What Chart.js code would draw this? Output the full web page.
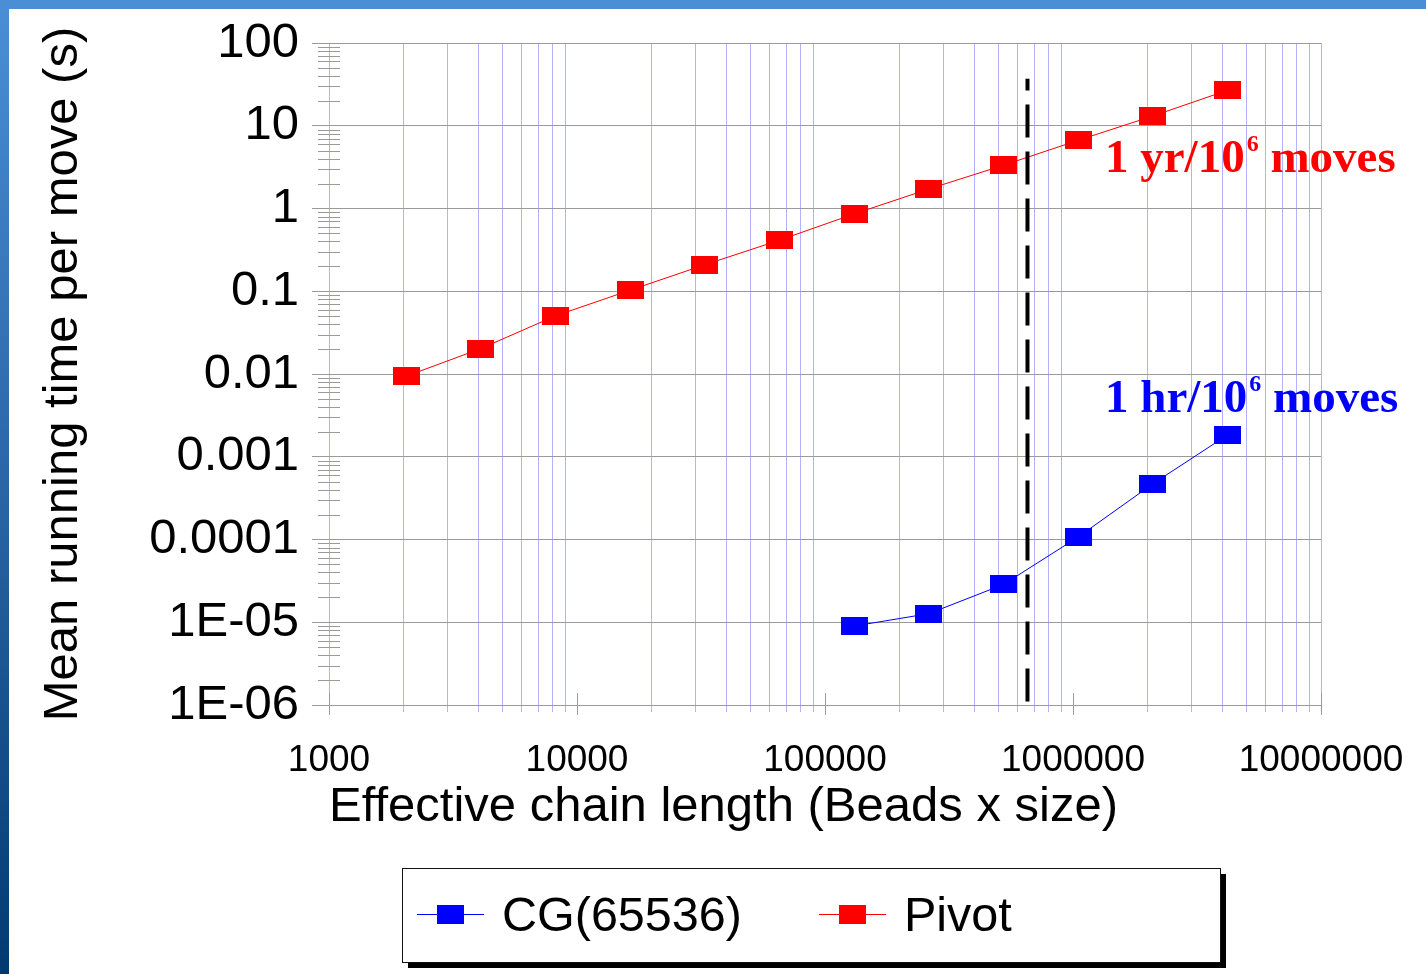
<!DOCTYPE html>
<html>
<head>
<meta charset="utf-8">
<script src="https://cdn.jsdelivr.net/npm/chart.js@4.4.0/dist/chart.umd.min.js"></script>
<style>
html, body { margin: 0; padding: 0; background: #ffffff; }
canvas { display: block; }
</style>
</head>
<body>
<canvas id="chart" width="1426" height="974"></canvas>
<script>
// ---------- DATA ----------
const seriesNames = ['CG(65536)', 'Pivot'];

const pivotX = [2048, 4096, 8192, 16384, 32768, 65536, 131072, 262144, 524288, 1048576, 2097152, 4194304];
const pivotY = [0.0094, 0.0203, 0.0505, 0.103, 0.209, 0.414, 0.86, 1.72, 3.33, 6.66, 13.1, 26.8];

const cgX = [131072, 262144, 524288, 1048576, 2097152, 4194304];
const cgY = [0.0000090, 0.0000127, 0.0000286, 0.000107, 0.00047, 0.00183];

const cutoffX = [655360, 655360];
const cutoffY = [0.0000011, 37];

const xTickValues = [1000, 10000, 100000, 1000000, 10000000];
const xTickLabels = ['1000', '10000', '100000', '1000000', '10000000'];
const yTickValues = [0.000001, 0.00001, 0.0001, 0.001, 0.01, 0.1, 1, 10, 100];
const yTickLabels = ['1E-06', '1E-05', '0.0001', '0.001', '0.01', '0.1', '1', '10', '100'];

const xTitle = 'Effective chain length (Beads x size)';
const yTitle = 'Mean running time per move (s)';

const noteTexts = [
  { main: '1 yr/10', sup: '6', rest: ' moves', color: '#ff0000' },
  { main: '1 hr/10', sup: '6', rest: ' moves', color: '#0000ff' }
];

// ---------- helpers ----------
const SANS = '"Liberation Sans", Arial, sans-serif';
const SERIF = '"Liberation Serif", "Times New Roman", serif';
const LAVENDER = 'rgba(170,170,255,0.9)';
const GRAYLINE = '#9a9a9a';

function withMinors(majors) {
  const out = [];
  for (let i = 0; i < majors.length; i++) {
    out.push({ value: majors[i], major: true });
    if (i < majors.length - 1) {
      for (let m = 2; m <= 9; m++) out.push({ value: majors[i] * m, major: false });
    }
  }
  return out;
}
function toXY(xs, ys) { return xs.map((x, i) => ({ x: x, y: ys[i] })); }
function markerCanvas(color, w, h) {
  const c = document.createElement('canvas');
  c.width = w; c.height = h;
  const g = c.getContext('2d');
  g.fillStyle = color;
  g.fillRect(0, 0, w, h);
  return c;
}
const redMarker = markerCanvas('#ff0000', 27, 18);
const blueMarker = markerCanvas('#0000ff', 27, 18);

// ---------- plugins ----------
const framePlugin = {
  id: 'frame',
  beforeDraw(chart) {
    const ctx = chart.ctx;
    ctx.save();
    ctx.fillStyle = '#ffffff';
    ctx.fillRect(0, 0, chart.width, chart.height);
    const g = ctx.createLinearGradient(0, 0, 0, chart.height);
    g.addColorStop(0, '#4a8fd6');
    g.addColorStop(0.5, '#2a65a6');
    g.addColorStop(1, '#023a70');
    ctx.fillStyle = g;
    ctx.fillRect(0, 0, 9, chart.height);
    ctx.fillStyle = '#4a8fd5';
    ctx.fillRect(0, 0, chart.width, 9);
    ctx.restore();
  }
};

const ticksPlugin = {
  id: 'extraTicks',
  beforeDatasetsDraw(chart) {
    const ctx = chart.ctx;
    const xs = chart.scales.x, ys = chart.scales.y;
    const a = chart.chartArea;
    ctx.save();
    ctx.strokeStyle = GRAYLINE;
    ctx.lineWidth = 1;
    ctx.beginPath();
    ys.ticks.forEach(t => {
      if (!t.major) {
        const py = Math.round(ys.getPixelForValue(t.value)) + 0.5;
        ctx.moveTo(a.left - 11, py);
        ctx.lineTo(a.left + 11, py);
      }
    });
    xs.ticks.forEach(t => {
      if (t.major) {
        const px = Math.round(xs.getPixelForValue(t.value)) + 0.5;
        ctx.moveTo(px, a.bottom - 12);
        ctx.lineTo(px, a.bottom + 10);
      }
    });
    ctx.stroke();
    ctx.restore();
  },
  afterDatasetsDraw(chart) {
    const ctx = chart.ctx;
    ctx.save();
    // annotations
    const spots = [[1105, 172], [1105, 412]];
    noteTexts.forEach((n, i) => {
      let [x, y] = spots[i];
      ctx.fillStyle = n.color;
      ctx.textBaseline = 'alphabetic';
      ctx.textAlign = 'left';
      ctx.font = 'bold 47px ' + SERIF;
      ctx.fillText(n.main, x, y);
      x += ctx.measureText(n.main).width + 2;
      ctx.font = 'bold 24px ' + SERIF;
      ctx.fillText(n.sup, x, y - 21);
      x += ctx.measureText(n.sup).width;
      ctx.font = 'bold 47px ' + SERIF;
      ctx.fillText(n.rest, x, y);
    });
    // legend
    const bx = 402, by = 868, bw = 818, bh = 94;
    ctx.fillStyle = '#000000';
    ctx.fillRect(bx + 6, by + 6, bw, bh);
    ctx.fillStyle = '#ffffff';
    ctx.fillRect(bx, by, bw, bh);
    ctx.strokeStyle = '#111111';
    ctx.lineWidth = 1;
    ctx.strokeRect(bx + 0.5, by + 0.5, bw, bh);
    const items = [
      { name: seriesNames[0], color: '#0000ff', lx: 417 , tx: 502 },
      { name: seriesNames[1], color: '#ff0000', lx: 819, tx: 904 }
    ];
    items.forEach(it => {
      ctx.strokeStyle = it.color;
      ctx.beginPath();
      ctx.moveTo(it.lx, 914.5);
      ctx.lineTo(it.lx + 67, 914.5);
      ctx.stroke();
      ctx.fillStyle = it.color;
      ctx.fillRect(it.lx + 20, 905, 27, 19);
      ctx.fillStyle = '#000000';
      ctx.font = '48.5px ' + SANS;
      ctx.textBaseline = 'alphabetic';
      ctx.fillText(it.name, it.tx, 931);
    });
    ctx.restore();
  }
};

// ---------- chart ----------
const isEdgeX = v => v === xTickValues[0] || v === xTickValues[xTickValues.length - 1];

new Chart(document.getElementById('chart'), {
  type: 'line',
  data: {
    datasets: [
      {
        label: 'cutoff',
        data: toXY(cutoffX, cutoffY),
        borderColor: '#000000',
        borderWidth: 4,
        borderDash: [33, 14],
        pointRadius: 0,
        fill: false,
        order: 0
      },
      {
        label: seriesNames[0],
        data: toXY(cgX, cgY),
        borderColor: '#0000ff',
        backgroundColor: '#0000ff',
        borderWidth: 1,
        pointStyle: blueMarker,
        pointRadius: 9,
        fill: false,
        order: 1
      },
      {
        label: seriesNames[1],
        data: toXY(pivotX, pivotY),
        borderColor: '#ff0000',
        backgroundColor: '#ff0000',
        borderWidth: 1,
        pointStyle: redMarker,
        pointRadius: 9,
        fill: false,
        order: 2
      }
    ]
  },
  options: {
    responsive: false,
    animation: false,
    events: [],
    layout: { padding: { left: 0, top: 43, right: 105, bottom: 129 } },
    plugins: { legend: { display: false }, tooltip: { enabled: false } },
    elements: { line: { tension: 0 } },
    scales: {
      x: {
        type: 'logarithmic',
        position: 'bottom',
        min: xTickValues[0],
        max: xTickValues[xTickValues.length - 1],
        afterBuildTicks: s => { s.ticks = withMinors(xTickValues); },
        afterFit: s => { s.height = 140; s.paddingLeft = 0; s.paddingRight = 0; },
        grid: {
          color: c => (c.tick && c.tick.major && !isEdgeX(c.tick.value)) ? 'rgba(0,0,0,0)' : LAVENDER,
          tickColor: c => (c.tick && c.tick.major) ? 'rgba(0,0,0,0)' : LAVENDER,
          lineWidth: 1,
          drawTicks: true,
          tickLength: 7
        },
        border: { display: true, color: GRAYLINE, width: 1 },
        ticks: {
          autoSkip: false,
          maxRotation: 0,
          padding: 27,
          color: '#000000',
          font: { family: SANS, size: 37 },
          callback: v => { const i = xTickValues.indexOf(v); return i >= 0 ? xTickLabels[i] : ''; }
        },
        title: {
          display: true,
          text: xTitle,
          align: 'start',
          color: '#000000',
          font: { family: SANS, size: 49 },
          padding: { top: 0, bottom: 8 }
        }
      },
      y: {
        type: 'logarithmic',
        position: 'left',
        min: yTickValues[0],
        max: yTickValues[yTickValues.length - 1],
        afterBuildTicks: s => { s.ticks = withMinors(yTickValues); },
        afterFit: s => { s.width = 329; s.paddingTop = 0; s.paddingBottom = 0; },
        grid: {
          color: c => (c.tick && c.tick.major) ? GRAYLINE : 'rgba(0,0,0,0)',
          tickColor: c => (c.tick && c.tick.major) ? GRAYLINE : 'rgba(0,0,0,0)',
          lineWidth: 1,
          drawTicks: true,
          tickLength: 17
        },
        border: { display: false },
        ticks: {
          autoSkip: false,
          padding: 13,
          color: '#000000',
          font: { family: SANS, size: 49 },
          callback: v => { const i = yTickValues.indexOf(v); return i >= 0 ? yTickLabels[i] : ''; }
        },
        title: {
          display: true,
          text: yTitle,
          color: '#000000',
          font: { family: SANS, size: 49 },
          padding: { top: 34, bottom: 0 }
        }
      }
    }
  },
  plugins: [framePlugin, ticksPlugin]
});
</script>
</body>
</html>
